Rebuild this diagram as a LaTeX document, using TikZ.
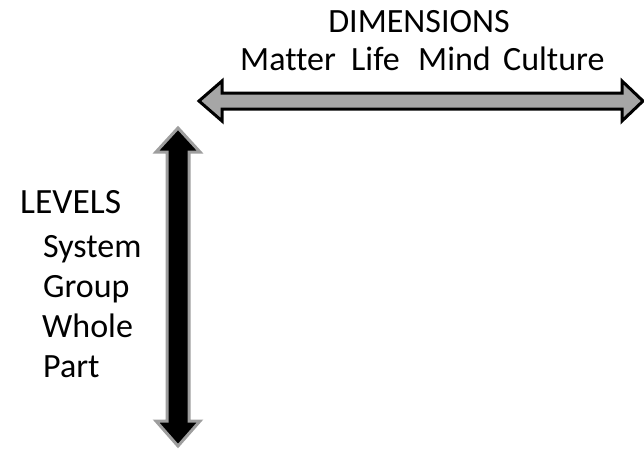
\documentclass[tikz,border=0pt]{standalone}
\usepackage{fontspec}
\setmainfont{Carlito}[Ligatures={NoCommon}]
\begin{document}
\begin{tikzpicture}[x=1pt,y=-1pt,
  lbl/.style={anchor=base west,inner sep=0pt,font=\fontsize{34}{40}\selectfont},
  hdr/.style={anchor=base,inner sep=0pt,font=\fontsize{34}{40}\selectfont},
  harrow/.style={fill=black!35,draw=black,line width=3pt,line join=miter},
  varrow/.style={fill=black,draw=black!38,line width=3pt,line join=miter}]
\useasboundingbox (0,0) rectangle (644,450);
% horizontal double arrow
\draw[harrow] (199,101) -- (222,81) -- (222,93) -- (622,93) -- (622,81) -- (643,101)
  -- (622,121) -- (622,109) -- (222,109) -- (222,121) -- cycle;
% vertical double arrow
\draw[varrow] (178,128) -- (200,152) -- (189,152) -- (189,421) -- (200,421) -- (178,446)
  -- (156,421) -- (167,421) -- (167,152) -- (156,152) -- cycle;
\node[hdr] (dim) at (419,32) {DIMENSIONS};
\node[lbl] (matter) at (240,70) {Matter};
\node[lbl] (life) at (351,70) {Life};
\node[lbl] (mind) at (418,70) {Mind};
\node[lbl] (culture) at (503,70) {Culture};
\node[lbl,font=\fontsize{35.5}{40}\selectfont] (levels) at (20,213) {LEVELS};
\node[lbl] (system) at (43,257) {System};
\node[lbl] (group) at (43,297) {Group};
\node[lbl] (whole) at (42,337) {Whole};
\node[lbl] (part) at (43,377) {Part};
\end{tikzpicture}
\end{document}
